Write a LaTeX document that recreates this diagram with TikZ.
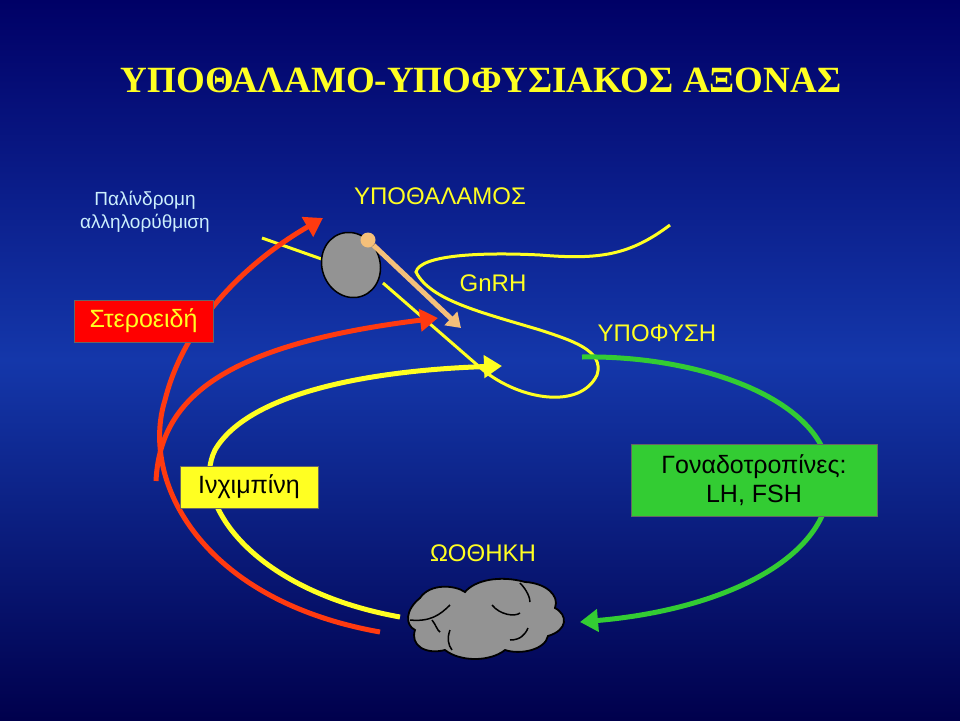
\documentclass[tikz,border=0pt]{standalone}
\usepackage{fontspec}
\setmainfont{Liberation Sans}
\newfontfamily\titlefont{Liberation Serif}
\usetikzlibrary{arrows.meta,shapes.geometric}
\definecolor{ylw}{HTML}{FFFF22}
\definecolor{redl}{HTML}{FF3A10}
\definecolor{grn}{HTML}{33CC33}
\definecolor{tanc}{HTML}{F5C07A}
\tikzset{
 lbl/.style={text=ylw,font=\fontsize{24}{26}\selectfont},
 box/.style={draw=black!60,line width=0.8pt,inner sep=0pt,minimum height=42pt,font=\fontsize{25}{28}\selectfont},
 thick arrow/.style={line width=5pt,-{Triangle[length=18pt,width=22pt]}},
 neuron/.style={ylw,line width=3pt}
}
\begin{document}
\begin{tikzpicture}[x=1pt,y=-1pt]
\useasboundingbox (0,0) rectangle (960,720);
\shade[top color=blue!40!black,bottom color=blue!30!black,middle color={rgb,255:red,20;green,55;blue,170}] (0,0) rectangle (960,720);
\node (title) [text=ylw,font=\titlefont\bfseries\fontsize{37}{40}\selectfont] at (481,80) {ΥΠΟΘΑΛΑΜΟ-ΥΠΟΦΥΣΙΑΚΟΣ ΑΞΟΝΑΣ};
\node (fb) [text=cyan!20!white,align=center,font=\fontsize{19}{23}\selectfont] at (145,212) {Παλίνδρομη\\αλληλορύθμιση};
\node (hyp) [lbl] at (440,196) {ΥΠΟΘΑΛΑΜΟΣ};
\node (gn) [lbl] at (493,283) {GnRH};
\node (pit) [lbl] at (657,333) {ΥΠΟΦΥΣΗ};
\node (ov) [lbl] at (483,553) {ΩΟΘΗΚΗ};
% neuron
\draw[neuron] (262,238) -- (330,262);
\draw[neuron] (383,283) -- (483,370) .. controls (520,400) and (580,410) .. (597,375) .. controls (605,350) and (570,340) .. (540,330) .. controls (480,312) and (430,300) .. (416,272) .. controls (420,255) and (480,252) .. (540,255) .. controls (600,260) and (630,255) .. (670,225);
\node (cell) [draw=black,line width=1.5pt,fill=gray!85,ellipse,minimum width=58pt,minimum height=66pt,rotate=20] at (351,265) {};
\node (ball) [circle,fill=tanc,minimum size=15pt,inner sep=0pt] at (368,240) {};
\coordinate (gt) at (461,328);
\draw[tanc,line width=5pt,-{Triangle[length=14pt,width=18pt]}] (ball) -- (gt);
% red arrows
\coordinate (r1s) at (380,632);
\coordinate (r1e) at (323,218);
\draw[redl,thick arrow] (r1s) .. controls (200,600) and (140,480) .. (165,400) .. controls (185,320) and (250,260) .. (r1e);
\coordinate (r2s) at (156,481);
\coordinate (r2e) at (438,318);
\draw[redl,thick arrow] (r2s) .. controls (160,400) and (220,345) .. (r2e);
% yellow inhibin
\coordinate (ys) at (400,617);
\coordinate (ye) at (502,366);
\draw[ylw,thick arrow] (ys) .. controls (250,590) and (190,500) .. (215,450) .. controls (250,390) and (380,370) .. (ye);
% green
\coordinate (gs) at (582,357);
\coordinate (ge) at (580,622);
\draw[grn,thick arrow] (gs) .. controls (700,355) and (830,400) .. (830,480) .. controls (830,560) and (720,610) .. (ge);
% boxes
\node (ster) [box,fill=red,text=ylw,minimum width=139pt] at (143.5,321) {Στεροειδή};
\node (inh) [box,fill=ylw,text=black,minimum width=138pt] at (249,487) {Ινχιμπίνη};
\node (gon) [box,fill=grn,text=black,minimum width=246pt,minimum height=72pt,align=center,font=\fontsize{25}{29}\selectfont] at (754,480) {Γοναδοτροπίνες:\\LH, FSH};
% ovary cloud
\draw[fill=gray!85,draw=black,line width=1.8pt] (420,598) .. controls (430,583) and (455,585) .. (465,592) .. controls (475,580) and (500,575) .. (525,582) .. controls (545,583) and (560,595) .. (555,608) .. controls (568,615) and (568,630) .. (548,636) .. controls (545,650) and (520,655) .. (505,650) .. controls (490,662) and (460,662) .. (445,650) .. controls (425,655) and (410,645) .. (415,630) .. controls (405,625) and (405,610) .. (420,598) -- cycle;
\draw[black,line width=1.5pt] (410,620) .. controls (430,622) and (440,615) .. (450,605);
\draw[black,line width=1.5pt] (432,620) .. controls (436,625) and (437,630) .. (440,632);
\draw[black,line width=1.5pt] (492,605) .. controls (500,615) and (515,617) .. (520,613);
\draw[black,line width=1.5pt] (520,583) .. controls (527,590) and (530,598) .. (530,602);
\draw[black,line width=1.5pt] (510,640) .. controls (520,640) and (525,635) .. (528,628);
\draw[black,line width=1.5pt] (450,630) .. controls (447,638) and (448,645) .. (452,650);
\end{tikzpicture}
\end{document}
